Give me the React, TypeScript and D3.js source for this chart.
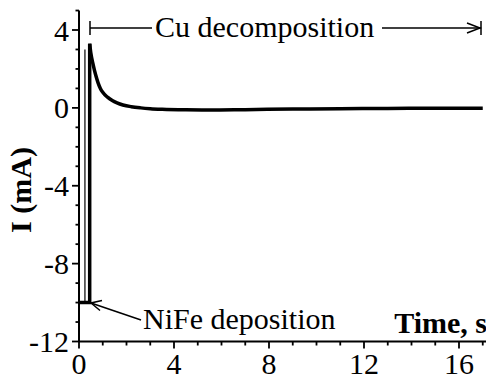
import React from "react";
import * as d3 from "d3";

// Current transient: NiFe deposition pulse followed by Cu decomposition
const timeS = [0, 0.45, 0.45, 0.5, 0.6, 0.7, 0.8, 0.9, 1.0, 1.2, 1.4, 1.6, 1.85, 2.2, 2.6, 3.0, 3.5, 4.5, 5.5, 7, 9, 11, 13, 15, 17];
const currentMA = [-10, -10, 3.3, 2.8, 2.2, 1.7, 1.3, 1.0, 0.8, 0.55, 0.38, 0.26, 0.15, 0.06, 0.0, -0.04, -0.07, -0.1, -0.11, -0.09, -0.06, -0.04, -0.03, -0.02, -0.02];

// Fast switching edge recorded as a thin trace
const edgeTime = [0.25, 0.25];
const edgeCurrent = [-10, 3.0];

const xMajorTicks = [0, 4, 8, 12, 16];
const yMajorTicks = [4, 0, -4, -8, -12];
const xMinorTicks = d3.range(0, 18, 1);
const yMinorTicks = d3.range(-12, 6, 1);

const W = 486;
const H = 381;
const FONT = "Liberation Serif";

export default function App() {
  const x = d3.scaleLinear().domain([0, 16]).range([79, 459]);
  const y = d3.scaleLinear().domain([-12, 4]).range([341.5, 30]);

  const pts: [number, number][] = timeS.map((t, i) => [t, currentMA[i]]);
  const smooth = d3
    .line<[number, number]>()
    .x((d) => x(d[0]))
    .y((d) => y(d[1]))
    .curve(d3.curveMonotoneX);
  const straight = d3
    .line<[number, number]>()
    .x((d) => x(d[0]))
    .y((d) => y(d[1]));
  // step portion drawn linearly, decay smoothed
  const stepPath = straight(pts.slice(0, 3));
  const decayPath = smooth(pts.slice(2));
  const edgePath = straight(edgeTime.map((t, i) => [t, edgeCurrent[i]] as [number, number]));

  const x0 = x(0);
  const y0 = y(-12);
  const yTop = y(5);

  const arrowY = 28;
  const leftBar = 90;
  const rightBar = 481;

  return (
    <svg width={W} height={H} style={{ display: "block", position: "absolute", left: 0, top: 0, background: "#fff" }}>
      {/* axes */}
      <line x1={x0} x2={x0} y1={yTop} y2={y0} stroke="#000" strokeWidth={2} />
      <line x1={x0} x2={W} y1={y0} y2={y0} stroke="#000" strokeWidth={2} />
      {yMinorTicks.map((v) => (
        <line key={"ym" + v} x1={x0 - (v % 4 === 0 ? 7 : 3.5)} x2={x0} y1={y(v)} y2={y(v)} stroke="#000" strokeWidth={1.8} />
      ))}
      {xMinorTicks.map((v) => (
        <line key={"xm" + v} x1={x(v)} x2={x(v)} y1={y0} y2={y0 + (v % 4 === 0 ? 7 : 4)} stroke="#000" strokeWidth={1.8} />
      ))}
      <g style={{ fontFamily: FONT, fontSize: 30 }}>
        {yMajorTicks.map((v) => (
          <text key={"yl" + v} x={69} y={y(v) + 10.5} textAnchor="end">
            {v}
          </text>
        ))}
        {xMajorTicks.map((v) => (
          <text key={"xl" + v} x={x(v)} y={374} textAnchor="middle">
            {v}
          </text>
        ))}
        <text x={487} y={333} textAnchor="end" fontWeight="bold">
          Time, s
        </text>
        <text transform="translate(31,190) rotate(-90)" textAnchor="middle" fontWeight="bold">
          I (mA)
        </text>
        <text x={155} y={37}>
          Cu decomposition
        </text>
        <text x={143} y={329}>
          NiFe deposition
        </text>
      </g>

      {/* data */}
      <path d={edgePath || ""} fill="none" stroke="#000" strokeWidth={1.2} />
      <path d={stepPath || ""} fill="none" stroke="#000" strokeWidth={3.5} strokeLinejoin="miter" />
      <path d={decayPath || ""} fill="none" stroke="#000" strokeWidth={3.5} strokeLinejoin="round" />

      {/* Cu decomposition span */}
      <line x1={leftBar} x2={leftBar} y1={arrowY - 7} y2={arrowY + 7} stroke="#000" strokeWidth={1.5} />
      <line x1={leftBar} x2={152} y1={arrowY} y2={arrowY} stroke="#000" strokeWidth={1.5} />
      <line x1={382} x2={rightBar} y1={arrowY} y2={arrowY} stroke="#000" strokeWidth={1.5} />
      <polyline
        points={`${rightBar - 14},${arrowY - 5} ${rightBar - 1},${arrowY} ${rightBar - 14},${arrowY + 5}`}
        fill="none"
        stroke="#000"
        strokeWidth={1.5}
      />
      <line x1={rightBar} x2={rightBar} y1={arrowY - 7} y2={arrowY + 7} stroke="#000" strokeWidth={1.5} />

      {/* NiFe deposition pointer */}
      <line x1={141} x2={91} y1={320} y2={303} stroke="#000" strokeWidth={1.5} />
      <polyline points="102,300.5 91,303 100,310.5" fill="none" stroke="#000" strokeWidth={1.5} />
    </svg>
  );
}
